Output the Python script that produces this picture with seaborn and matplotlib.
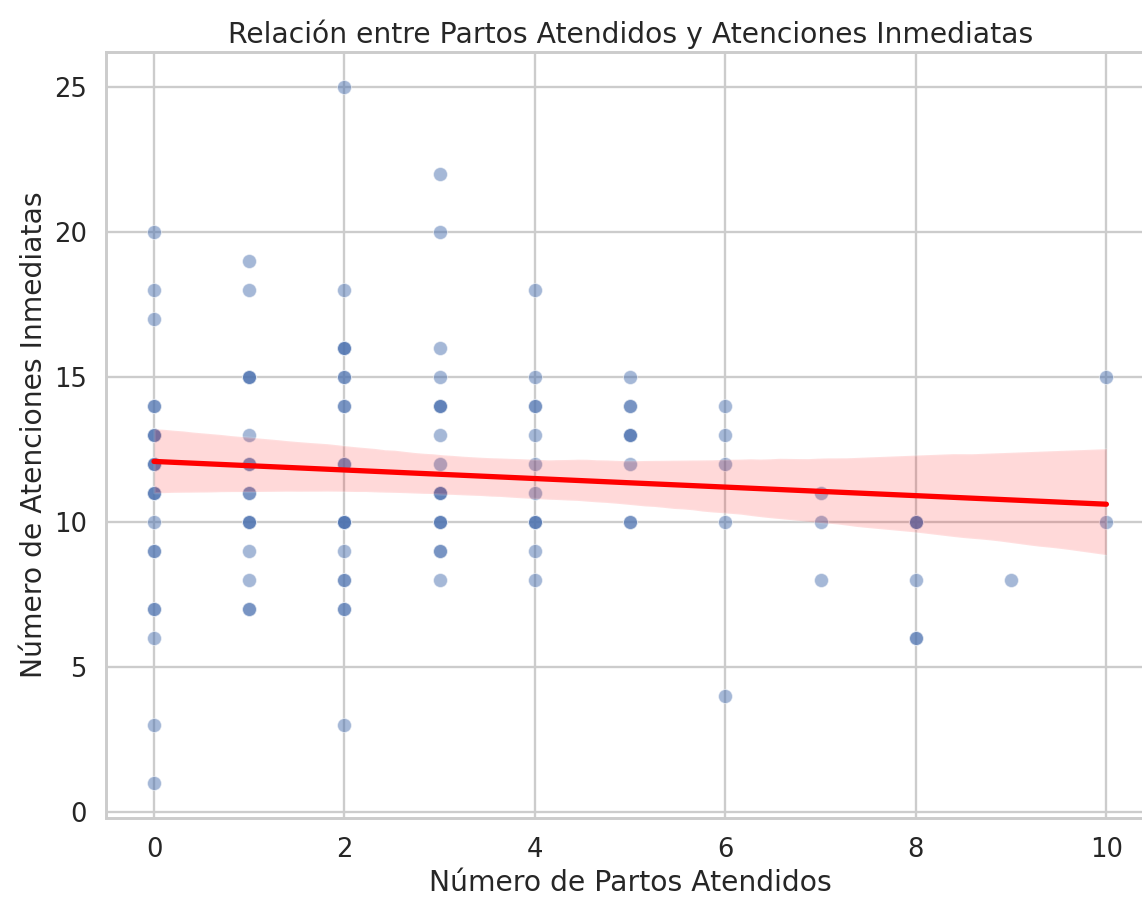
import numpy as np
import pandas as pd
import matplotlib
matplotlib.use("Agg")
import matplotlib.pyplot as plt
import seaborn as sns

# unique (partos, atenciones) pairs and how many times each one repeats
partos = [0, 0, 0, 0, 0, 0, 0, 0, 0, 0, 0, 0, 0,
          1, 1, 1, 1, 1, 1, 1, 1, 1, 1,
          2, 2, 2, 2, 2, 2, 2, 2, 2, 2, 2,
          3, 3, 3, 3, 3, 3, 3, 3, 3, 3, 3,
          4, 4, 4, 4, 4, 4, 4, 4, 4,
          5, 5, 5, 5, 5,
          6, 6, 6, 6, 6,
          7, 7, 7,
          8, 8, 8,
          9,
          10, 10]
atenciones = [20, 18, 17, 14, 13, 12, 11, 10, 9, 7, 6, 3, 1,
              19, 18, 15, 13, 12, 11, 10, 9, 8, 7,
              25, 18, 16, 15, 14, 12, 10, 9, 8, 7, 3,
              22, 20, 16, 15, 14, 13, 12, 11, 10, 9, 8,
              18, 15, 14, 13, 12, 11, 10, 9, 8,
              15, 14, 13, 12, 10,
              14, 13, 12, 10, 4,
              11, 10, 8,
              10, 8, 6,
              8,
              15, 10]
conteo = [1, 1, 1, 2, 3, 3, 3, 1, 2, 2, 1, 1, 1,
          1, 1, 3, 1, 2, 2, 3, 1, 1, 2,
          1, 1, 3, 2, 2, 2, 4, 1, 2, 2, 1,
          1, 1, 1, 1, 3, 1, 1, 3, 3, 2, 1,
          1, 1, 2, 1, 1, 1, 3, 1, 1,
          1, 2, 3, 1, 2,
          1, 1, 1, 1, 1,
          1, 1, 1,
          3, 1, 2,
          1,
          1, 1]

df = pd.DataFrame({
    "partos": np.repeat(partos, conteo),
    "atenciones": np.repeat(atenciones, conteo),
})

sns.set_theme(style="whitegrid", context="talk")

dpi = 112.8
fig = plt.figure(figsize=(1142 / dpi, 898 / dpi), dpi=dpi)
# axes run a bit past the right edge, like the reference crop
ax = fig.add_axes([106.4 / 1142, (898 - 817.5) / 898, 1047.6 / 1142, (817.5 - 52) / 898])

sns.scatterplot(data=df, x="partos", y="atenciones", alpha=0.5, ax=ax)
sns.regplot(data=df, x="partos", y="atenciones", scatter=False, color="red",
            seed=0, ax=ax)

ax.set_title("Relación entre Partos Atendidos y Atenciones Inmediatas")
ax.set_xlabel("Número de Partos Atendidos")
ax.set_ylabel("Número de Atenciones Inmediatas")

fig.savefig("out.png", dpi=dpi)
